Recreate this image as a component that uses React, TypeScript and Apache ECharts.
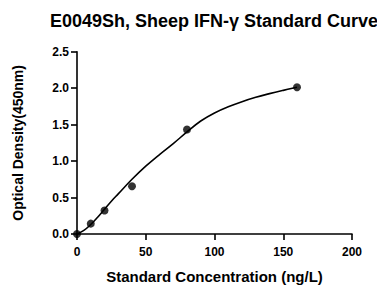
import React, { useEffect, useRef } from "react";
import * as echarts from "echarts";

const titleText = "E0049Sh, Sheep IFN-γ Standard Curve";
const xName = "Standard Concentration (ng/L)";
const yName = "Optical Density(450nm)";

// Measured standards
const stdConc = [0, 10, 20, 40, 80, 160];
const stdOD = [0.0, 0.142, 0.322, 0.654, 1.432, 2.012];

// Fitted curve
const curveConc = [0, 5, 10, 15, 20, 25, 30, 40, 50, 60, 70, 80, 90, 100, 110, 120, 130, 140, 150, 160];
const curveOD = [0.0, 0.05, 0.13, 0.23, 0.34, 0.45, 0.55, 0.75, 0.93, 1.09, 1.24, 1.4, 1.55, 1.66, 1.745, 1.815, 1.875, 1.925, 1.97, 2.012];

const xTicks = [0, 50, 100, 150, 200];
const yTicks = [0, 0.5, 1.0, 1.5, 2.0, 2.5];

const FONT = "Arial, 'Liberation Sans', sans-serif";

export default function App() {
  const ref = useRef<HTMLDivElement>(null);
  useEffect(() => {
    if (!ref.current) return;
    const chart = echarts.init(ref.current, undefined, { renderer: "svg" });
    chart.setOption({
      animation: false,
      backgroundColor: "#fff",
      graphic: [
        {
          type: "text",
          x: 214,
          y: 21,
          style: {
            text: titleText,
            font: `bold 18px ${FONT}`,
            fill: "#000",
            textAlign: "center",
            textVerticalAlign: "middle",
          },
        },
      ],
      grid: { left: 77, right: 25, top: 51.7, bottom: 49, containLabel: false },
      xAxis: {
        type: "value",
        min: xTicks[0],
        max: xTicks[xTicks.length - 1],
        interval: 50,
        name: xName,
        nameLocation: "middle",
        nameGap: 35,
        nameTextStyle: { fontFamily: FONT, fontWeight: "bold", fontSize: 15, color: "#000" },
        axisLine: { lineStyle: { color: "#000", width: 1.6 } },
        axisTick: { show: true, length: 6, lineStyle: { color: "#000", width: 1.6 } },
        axisLabel: { margin: 12, fontFamily: FONT, fontWeight: "bold", fontSize: 12, color: "#000" },
        splitLine: { show: false },
      },
      yAxis: {
        type: "value",
        min: yTicks[0],
        max: yTicks[yTicks.length - 1],
        interval: 0.5,
        name: yName,
        nameLocation: "middle",
        nameGap: 52,
        nameTextStyle: { fontFamily: FONT, fontWeight: "bold", fontSize: 14, color: "#000" },
        axisLine: { show: true, lineStyle: { color: "#000", width: 1.6 } },
        axisTick: { show: true, length: 6, lineStyle: { color: "#000", width: 1.6 } },
        axisLabel: {
          margin: 8,
          fontFamily: FONT,
          fontWeight: "bold",
          fontSize: 12,
          color: "#000",
          formatter: (v: number) => v.toFixed(1),
        },
        splitLine: { show: false },
      },
      series: [
        {
          type: "line",
          data: curveConc.map((c, i) => [c, curveOD[i]]),
          smooth: 0.4,
          showSymbol: false,
          lineStyle: { color: "#000", width: 1.6 },
          z: 2,
        },
        {
          type: "scatter",
          data: stdConc.map((c, i) => [c, stdOD[i]]),
          symbol: "circle",
          symbolSize: 8,
          itemStyle: { color: "#000" },
          z: 3,
        },
      ],
    });
    return () => chart.dispose();
  }, []);
  return <div ref={ref} style={{ width: 377, height: 289, position: "absolute", left: 0, top: 0 }} />;
}
